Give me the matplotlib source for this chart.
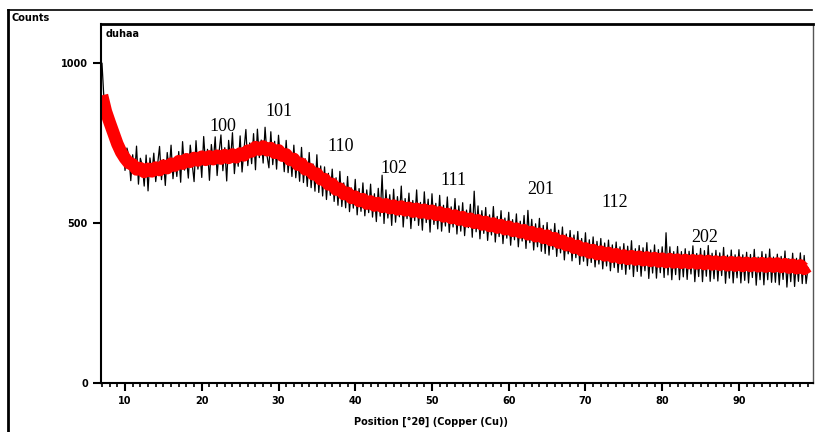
import numpy as np
import matplotlib
matplotlib.use("Agg")
import matplotlib.pyplot as plt
from matplotlib.lines import Line2D
from matplotlib.ticker import MultipleLocator

# raw scan, 0.25 deg steps from 7 to 99 deg 2theta
scan_start = 7.0
scan_step = 0.25
counts_raw = [
    1000, 890, 830, 870, 790, 840, 745, 800,
    715, 775, 700, 745, 665, 735, 711, 633,
    714, 652, 741, 622, 703, 680, 616, 713,
    601, 704, 655, 719, 630, 685, 740, 636,
    699, 618, 721, 665, 744, 639, 702, 646,
    724, 628, 755, 666, 705, 641, 744, 687,
    630, 758, 669, 724, 643, 771, 683, 731,
    634, 746, 690, 770, 649, 721, 776, 664,
    736, 632, 759, 695, 783, 655, 726, 678,
    773, 660, 730, 793, 680, 751, 686, 780,
    667, 794, 705, 760, 688, 800, 712, 673,
    786, 683, 756, 669, 775, 697, 739, 661,
    759, 658, 724, 646, 744, 642, 708, 631,
    737, 627, 701, 615, 721, 611, 685, 600,
    714, 596, 679, 585, 676, 574, 656, 587,
    669, 568, 642, 556, 662, 552, 626, 548,
    646, 536, 610, 547, 637, 526, 608, 537,
    626, 523, 604, 533, 622, 519, 592, 505,
    609, 522, 650, 499, 604, 516, 589, 493,
    606, 503, 583, 520, 616, 488, 577, 514,
    594, 483, 571, 508, 604, 493, 565, 478,
    598, 502, 575, 472, 592, 496, 562, 482,
    587, 475, 556, 491, 582, 471, 551, 488,
    577, 466, 554, 475, 564, 461, 541, 486,
    559, 456, 600, 473, 554, 451, 539, 468,
    549, 446, 526, 463, 552, 441, 521, 458,
    539, 436, 516, 453, 534, 431, 511, 448,
    529, 426, 506, 444, 524, 421, 540, 439,
    512, 416, 498, 426, 515, 412, 493, 405,
    502, 400, 481, 418, 499, 396, 478, 407,
    488, 385, 466, 404, 477, 382, 463, 392,
    474, 371, 452, 381, 470, 367, 448, 377,
    457, 363, 443, 372, 452, 357, 438, 366,
    447, 351, 432, 361, 441, 346, 426, 355,
    436, 340, 428, 356, 445, 333, 420, 349,
    430, 334, 423, 351, 439, 327, 416, 344,
    432, 328, 417, 345, 426, 330, 470, 338,
    426, 323, 411, 339, 427, 323, 411, 332,
    420, 324, 412, 341, 429, 317, 405, 333,
    421, 317, 414, 334, 430, 318, 406, 326,
    415, 319, 407, 336, 424, 312, 400, 328,
    416, 313, 401, 329, 417, 313, 401, 321,
    409, 313, 402, 330, 418, 306, 394, 323,
    411, 307, 403, 323, 419, 315, 394, 315,
    403, 307, 396, 324, 413, 300, 389, 317,
    406, 302, 390, 318, 407, 311, 399, 311,
    360,
]

# smoothed trace, 0.5 deg steps from 7 to 99
smooth_start = 7.0
smooth_step = 0.5
counts_smooth = [
    900, 850, 815, 782, 748, 722, 703, 688, 684, 668,
    672, 660, 670, 662, 674, 666, 680, 672, 686, 680,
    694, 686, 700, 692, 704, 696, 708, 698, 709, 700,
    711, 702, 713, 704, 715, 706, 718, 712, 727, 724,
    738, 730, 740, 728, 735, 720, 728, 711, 715, 698,
    701, 683, 686, 668, 670, 653, 655, 637, 638, 621,
    623, 605, 608, 591, 595, 579, 583, 569, 575, 561,
    568, 555, 563, 551, 559, 547, 555, 543, 552, 540,
    548, 536, 545, 533, 542, 530, 539, 526, 534, 521,
    529, 516, 524, 511, 519, 506, 514, 501, 509, 496,
    504, 491, 499, 486, 494, 481, 489, 476, 483, 471,
    478, 465, 472, 459, 467, 454, 461, 447, 453, 439,
    445, 431, 437, 423, 429, 415, 421, 408, 416, 403,
    411, 399, 407, 395, 403, 391, 399, 388, 397, 386,
    395, 384, 393, 382, 391, 380, 389, 378, 388, 377,
    386, 376, 385, 375, 384, 374, 383, 372, 382, 371,
    380, 370, 379, 368, 378, 367, 377, 366, 376, 366,
    375, 365, 375, 364, 374, 364, 374, 363, 372, 361,
    370, 359, 368, 357, 365,
]

peak_labels = ["100", "101", "110", "102", "111", "201", "112", "202"]
peak_x = [22.8, 30.1, 38.1, 45.0, 52.8, 64.2, 73.8, 85.6]
peak_y = [803, 850, 741, 672, 634, 606, 566, 456]

x_raw = scan_start + scan_step * np.arange(len(counts_raw))
x_smooth = smooth_start + smooth_step * np.arange(len(counts_smooth))

fig = plt.figure(figsize=(8.15, 4.32), dpi=100)
ax = fig.add_axes([101 / 815, 1 - 383 / 432, 712 / 815, 359 / 432])

ax.plot(x_raw, counts_raw, color="black", lw=0.9)
ax.plot(x_smooth, counts_smooth, color="red", lw=9, solid_capstyle="butt")

for lab, px, py in zip(peak_labels, peak_x, peak_y):
    ax.text(px, py, lab, ha="center", va="center", fontsize=13,
            family="Liberation Serif")

ax.set_xlim(6.87, 99.65)
ax.set_ylim(0, 1123)
ax.set_yticks([0, 500, 1000])
ax.set_xticks(range(10, 100, 10))
ax.xaxis.set_minor_locator(MultipleLocator(1))
ax.tick_params(axis="both", which="major", direction="out", length=6, width=1.5,
               labelsize=7)
ax.tick_params(axis="x", which="minor", direction="out", length=3, width=1.2)
for lbl in ax.get_xticklabels() + ax.get_yticklabels():
    lbl.set_fontweight("bold")

ax.spines["left"].set_linewidth(1.5)
ax.spines["bottom"].set_linewidth(1.5)
ax.spines["top"].set_linewidth(2)
ax.spines["right"].set_linewidth(1)
ax.spines["right"].set_color("#555555")

ax.text(0.006, 0.985, "duhaa", transform=ax.transAxes, ha="left", va="top",
        fontsize=7, fontweight="bold")
fig.text(12 / 815, 1 - 18 / 432, "Counts", ha="left", va="center",
         fontsize=7, fontweight="bold")
fig.text(431 / 815, 1 - 422 / 432, "Position [°2θ] (Copper (Cu))", ha="center",
         va="center", fontsize=7, fontweight="bold")

# outer frame lines
fig.add_artist(Line2D([8 / 815, 812 / 815], [1 - 10 / 432, 1 - 10 / 432],
                      transform=fig.transFigure, color="black", lw=1.2))
fig.add_artist(Line2D([8 / 815, 8 / 815], [1 - 10 / 432, 0],
                      transform=fig.transFigure, color="black", lw=2))

fig.savefig("out.png", dpi=100)
